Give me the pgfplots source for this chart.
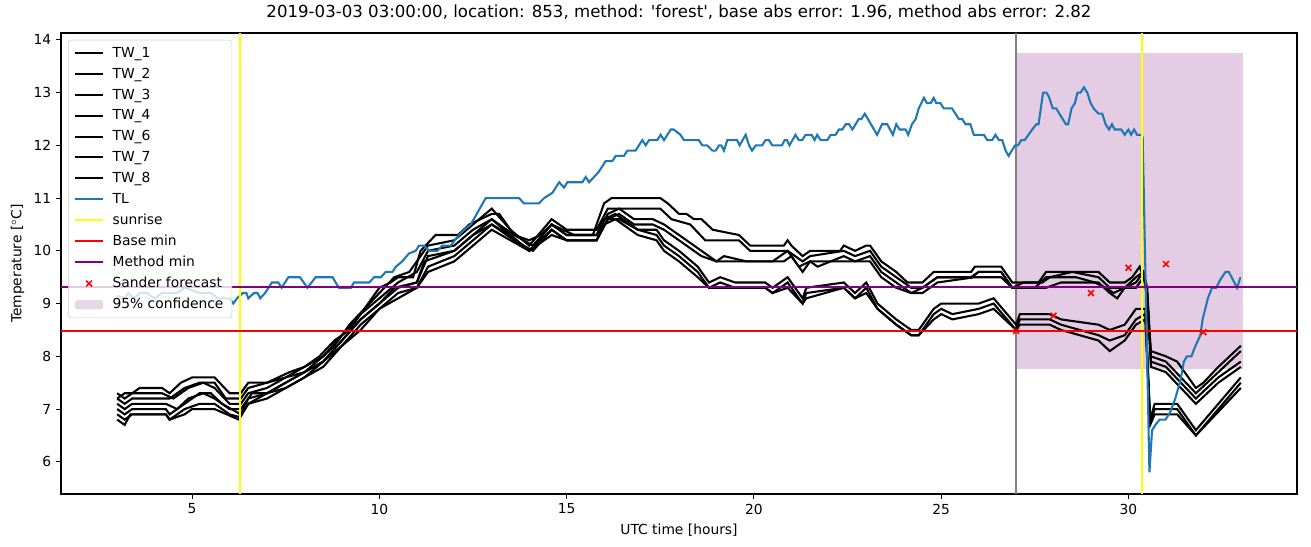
\documentclass[border=0pt]{standalone}
\usepackage{fontspec}
\setmainfont{DejaVu Sans}
\newfontfamily\plainfont{DejaVu Sans}
\usepackage{pgfplots}
\pgfplotsset{compat=1.18}
\definecolor{tlblue}{HTML}{1F77B4}
\definecolor{mplpurple}{HTML}{800080}
\definecolor{mplgray}{HTML}{808080}
\definecolor{mplyellow}{HTML}{FFFF00}
\definecolor{mplred}{HTML}{FF0000}
\definecolor{confid}{RGB}{227,204,228}
\begin{document}
\begin{tikzpicture}
\useasboundingbox (-0.61in,-0.53in) rectangle (12.50in,4.94in);
\begin{axis}[
  at={(0,0)}, anchor=south west,
  scale only axis, width=12.36in, height=4.61in,
  xmin=1.5, xmax=34.5, ymin=5.39, ymax=14.13,
  xtick={5,10,...,30}, ytick={6,...,14},
  tick pos=left, tick align=outside,
  major tick length=3.5pt,
  every tick/.style={black, line width=0.8pt},
  axis line style={line width=0.8pt},
  /pgf/number format/assume math mode=true,
  ticklabel style={font=\normalsize},
  title={2019-03-03 03:00:00, location: 853, method: {\plainfont'}forest{\plainfont'}, base abs error: 1.96, method abs error: 2.82},
  title style={font=\large},
  xlabel={UTC time [hours]}, ylabel={Temperature [$^\circ$C]},
  legend style={at={(0.0057,0.985)}, anchor=north west, draw=black!20, rounded corners=2pt,
    fill=white, fill opacity=0.8, text opacity=1, font=\normalsize, row sep=2.2pt, column sep=4pt,
    inner xsep=4pt, inner ysep=3pt},
  legend cell align=left,
  legend image code/.code={\draw[mark repeat=2,mark phase=2,#1] plot coordinates {(0cm,0cm) (0.36cm,0cm) (0.72cm,0cm)};},
]
% confidence band
\addplot[draw=none, fill=confid, forget plot] coordinates {(27,7.76)(33.07,7.76)(33.07,13.75)(27,13.75)} -- cycle;
% gray line
\addplot[mplgray, line width=1.5pt, forget plot] coordinates {(27,5.39)(27,14.13)};

% TW_1
\addplot[black, line width=1.5pt] coordinates {
(3.0,7.3)(3.2,7.2)(3.4,7.3)(3.6,7.4)(4.2,7.4)(4.4,7.3)(4.7,7.5)(5.0,7.6)(5.6,7.6)(6.0,7.3)(6.3,7.3)(6.5,7.5)(7.0,7.5)(7.3,7.6)(7.6,7.7)(8.0,7.8)(8.5,8.0)(8.8,8.2)(9.2,8.6)(9.6,8.9)(10.0,9.3)(10.3,9.4)(10.5,9.5)(10.9,9.5)(11.1,10.0)(11.5,10.3)(12.1,10.3)(12.4,10.5)(12.7,10.6)(13.0,10.7)(13.2,10.7)(13.6,10.3)(14.0,10.2)(14.3,10.3)(14.6,10.5)(14.9,10.4)(15.2,10.3)(15.7,10.3)(16.0,10.9)(16.2,11.0)(17.5,11.0)(17.7,10.9)(18.0,10.7)(18.2,10.7)(18.4,10.6)(18.6,10.6)(18.9,10.4)(19.6,10.3)(19.9,10.1)(20.8,10.1)(20.9,10.2)(21.0,10.1)(21.3,9.9)(21.5,10.0)(22.3,10.0)(22.4,10.1)(22.7,10.0)(23.0,10.1)(23.1,10.1)(23.4,9.8)(23.8,9.6)(24.1,9.4)(24.5,9.4)(24.8,9.6)(25.8,9.6)(25.9,9.7)(26.6,9.7)(26.9,9.4)(27.1,9.4)(27.6,9.4)(27.8,9.6)(29.2,9.6)(29.5,9.4)(29.9,9.4)(30.1,9.5)(30.3,9.7)(30.45,9.4)(30.6,8.1)(31.0,8.0)(31.3,7.9)(31.8,7.4)(32.0,7.5)(32.4,7.8)(32.7,8.0)(33.0,8.2)};
\addlegendentry{TW\_1}
% TW_2
\addplot[black, line width=1.5pt] coordinates {
(3.0,7.2)(3.2,7.1)(3.4,7.2)(4.3,7.2)(4.4,7.2)(4.8,7.4)(5.2,7.5)(5.6,7.5)(5.9,7.2)(6.3,7.2)(6.5,7.4)(7.0,7.5)(7.5,7.6)(8.0,7.8)(8.4,8.0)(8.8,8.3)(9.2,8.5)(9.6,8.9)(10.0,9.2)(10.4,9.5)(10.8,9.6)(11.0,9.8)(11.3,10.1)(12.0,10.2)(12.5,10.5)(13.0,10.8)(13.5,10.4)(14.0,10.1)(14.6,10.6)(15.0,10.4)(15.8,10.4)(16.1,10.8)(17.5,10.8)(17.8,10.6)(18.3,10.5)(18.7,10.2)(19.6,10.2)(19.9,10.0)(20.9,10.0)(21.3,9.8)(21.5,9.9)(22.4,10.0)(22.7,9.9)(23.1,10.0)(23.4,9.7)(23.8,9.5)(24.2,9.3)(24.5,9.3)(24.9,9.5)(25.8,9.5)(26.0,9.6)(26.6,9.6)(26.9,9.3)(27.2,9.4)(27.7,9.4)(27.9,9.5)(28.5,9.6)(29.2,9.5)(29.5,9.3)(29.9,9.3)(30.2,9.5)(30.4,9.6)(30.5,9.3)(30.6,8.0)(31.0,7.9)(31.8,7.3)(32.4,7.7)(33.0,8.1)};
\addlegendentry{TW\_2}
% TW_3
\addplot[black, line width=1.5pt] coordinates {
(3.0,7.2)(3.2,7.3)(3.6,7.3)(4.2,7.3)(4.5,7.2)(4.9,7.4)(5.3,7.5)(5.6,7.4)(6.0,7.1)(6.3,7.1)(6.5,7.3)(7.0,7.4)(7.5,7.6)(8.0,7.7)(8.5,8.0)(9.0,8.4)(9.5,8.8)(10.0,9.1)(10.5,9.4)(11.0,9.6)(11.3,10.0)(12.0,10.1)(12.5,10.4)(13.0,10.6)(13.6,10.3)(14.1,10.1)(14.6,10.5)(15.0,10.3)(15.8,10.3)(16.1,10.7)(16.4,10.8)(16.8,10.6)(17.3,10.6)(17.6,10.5)(18.0,10.3)(18.6,10.0)(19.0,9.8)(19.2,9.9)(19.8,9.8)(20.8,9.8)(21.0,9.9)(21.3,9.6)(21.5,9.8)(21.7,9.7)(22.4,9.9)(22.7,9.8)(23.1,9.9)(23.4,9.6)(23.8,9.4)(24.2,9.2)(24.5,9.3)(24.9,9.5)(25.8,9.5)(26.0,9.6)(26.6,9.6)(26.9,9.3)(27.1,9.3)(27.5,9.3)(27.8,9.5)(28.6,9.5)(29.1,9.4)(29.4,9.3)(29.6,9.2)(29.9,9.3)(30.2,9.4)(30.4,9.6)(30.5,9.2)(30.6,7.9)(31.0,7.8)(31.8,7.2)(32.4,7.6)(33.0,7.9)};
\addlegendentry{TW\_3}
% TW_4
\addplot[black, line width=1.5pt] coordinates {
(3.0,7.1)(3.2,7.0)(3.4,7.1)(4.3,7.1)(4.6,7.0)(4.9,7.2)(5.3,7.3)(5.6,7.2)(6.0,7.0)(6.3,7.0)(6.6,7.3)(7.0,7.3)(7.5,7.5)(8.0,7.7)(8.5,7.9)(9.0,8.3)(9.5,8.7)(10.0,9.0)(10.4,9.3)(11.0,9.4)(11.2,9.8)(12.0,10.0)(12.5,10.3)(13.0,10.5)(13.6,10.2)(14.1,10.0)(14.6,10.4)(15.0,10.2)(15.8,10.2)(16.1,10.6)(16.4,10.7)(16.8,10.5)(17.3,10.5)(17.6,10.4)(18.0,10.2)(18.6,9.9)(19.0,9.8)(19.8,9.8)(20.5,9.8)(20.9,10.0)(21.2,9.7)(21.5,9.8)(22.4,9.8)(22.7,9.8)(23.1,9.8)(23.4,9.5)(23.8,9.3)(24.2,9.2)(24.5,9.2)(24.9,9.4)(25.9,9.5)(26.6,9.5)(26.9,9.3)(27.2,9.3)(27.8,9.3)(28.2,9.4)(29.2,9.4)(29.5,9.2)(29.7,9.1)(29.9,9.3)(30.2,9.3)(30.4,9.5)(30.5,9.2)(30.6,7.8)(31.0,7.7)(31.8,7.1)(32.4,7.5)(33.0,7.8)};
\addlegendentry{TW\_4}
% TW_6
\addplot[black, line width=1.5pt] coordinates {
(3.0,7.0)(3.2,6.9)(3.4,7.0)(4.3,7.0)(4.4,6.9)(4.8,7.1)(5.2,7.3)(5.5,7.3)(5.8,7.1)(6.3,6.9)(6.5,7.2)(7.0,7.3)(7.5,7.5)(8.0,7.7)(8.5,7.9)(9.0,8.3)(9.5,8.7)(10.0,9.0)(10.5,9.3)(11.0,9.4)(11.3,9.9)(12.0,10.0)(12.5,10.3)(13.0,10.6)(13.5,10.3)(14.0,10.0)(14.6,10.4)(15.0,10.2)(15.8,10.2)(16.1,10.6)(16.4,10.6)(16.9,10.4)(17.4,10.4)(17.6,10.2)(18.0,10.0)(18.5,9.7)(18.8,9.4)(19.1,9.5)(19.5,9.4)(20.3,9.4)(20.5,9.3)(20.9,9.5)(21.3,9.1)(21.4,9.3)(22.4,9.4)(22.7,9.2)(23.0,9.4)(23.3,9.0)(23.8,8.7)(24.2,8.5)(24.4,8.5)(24.8,8.9)(25.0,9.0)(26.0,9.0)(26.4,9.1)(27.0,8.6)(27.1,8.8)(27.9,8.8)(28.2,8.7)(29.2,8.6)(29.5,8.5)(29.9,8.6)(30.2,8.9)(30.45,8.9)(30.58,6.8)(30.7,7.1)(31.3,7.1)(31.8,6.6)(32.4,7.1)(33.0,7.6)};
\addlegendentry{TW\_6}
% TW_7
\addplot[black, line width=1.5pt] coordinates {
(3.0,6.9)(3.2,6.8)(3.4,6.9)(4.3,6.9)(4.4,6.8)(4.8,7.0)(5.2,7.1)(5.6,7.1)(6.0,6.9)(6.25,6.85)(6.5,7.1)(7.0,7.3)(7.5,7.4)(8.0,7.6)(8.5,7.9)(9.0,8.2)(9.5,8.6)(10.0,8.9)(10.5,9.2)(11.0,9.3)(11.3,9.7)(12.0,9.9)(12.5,10.2)(13.0,10.5)(13.5,10.3)(14.0,10.0)(14.6,10.5)(15.0,10.3)(15.8,10.3)(16.0,10.6)(16.3,10.7)(16.9,10.4)(17.4,10.3)(17.6,10.1)(18.0,9.9)(18.5,9.6)(18.8,9.3)(19.1,9.4)(19.5,9.3)(20.3,9.3)(20.5,9.2)(20.9,9.4)(21.3,9.0)(21.4,9.2)(22.4,9.3)(22.7,9.1)(23.0,9.3)(23.3,8.9)(23.8,8.6)(24.2,8.4)(24.4,8.4)(24.8,8.8)(25.0,8.9)(25.3,8.8)(26.0,8.9)(26.4,9.0)(27.0,8.5)(27.1,8.7)(27.9,8.7)(28.2,8.6)(29.2,8.4)(29.5,8.3)(29.9,8.4)(30.2,8.7)(30.45,8.8)(30.58,6.75)(30.7,7.0)(31.3,7.0)(31.8,6.5)(32.4,7.0)(33.0,7.5)};
\addlegendentry{TW\_7}
% TW_8
\addplot[black, line width=1.5pt] coordinates {
(3.0,6.8)(3.2,6.7)(3.35,6.9)(4.3,6.9)(4.4,6.8)(4.8,6.9)(5.0,7.0)(5.6,7.0)(6.25,6.8)(6.5,7.1)(7.0,7.2)(7.5,7.4)(8.0,7.6)(8.5,7.8)(9.0,8.2)(9.5,8.5)(10.0,8.9)(10.5,9.1)(11.0,9.3)(11.3,9.6)(12.0,9.8)(12.5,10.1)(13.0,10.4)(13.5,10.2)(14.0,10.0)(14.6,10.3)(15.0,10.2)(15.8,10.2)(16.0,10.5)(16.3,10.6)(16.9,10.3)(17.4,10.2)(17.6,10.0)(18.0,9.8)(18.5,9.5)(18.8,9.3)(19.1,9.3)(19.5,9.3)(20.3,9.3)(20.5,9.2)(20.9,9.3)(21.3,9.0)(21.4,9.1)(22.4,9.3)(22.7,9.1)(23.0,9.2)(23.3,8.9)(23.8,8.6)(24.2,8.4)(24.4,8.4)(24.8,8.7)(25.0,8.8)(25.3,8.7)(26.0,8.8)(26.4,8.9)(27.0,8.5)(27.1,8.6)(27.9,8.6)(28.2,8.5)(29.2,8.3)(29.5,8.1)(29.9,8.3)(30.2,8.6)(30.45,8.7)(30.58,6.7)(30.7,6.9)(31.3,6.9)(31.8,6.5)(32.4,6.95)(33.0,7.4)};
\addlegendentry{TW\_8}
% TL
\addplot[tlblue, line width=1.5pt] coordinates {
(3.0,9.15)(3.2,9.1)(3.3,9.2)(3.45,9.1)(3.6,9.2)(3.8,9.2)(4.0,9.1)(4.2,9.2)(4.6,9.2)(4.8,9.3)(5.0,9.25)(5.2,9.2)(5.5,9.2)(5.7,9.1)(6.0,9.1)(6.1,9.0)(6.2,9.1)(6.35,9.2)(6.45,9.2)(6.5,9.1)(6.65,9.2)(6.75,9.2)(6.82,9.1)(6.95,9.2)(7.13,9.4)(7.3,9.4)(7.39,9.3)(7.57,9.5)(7.88,9.5)(8.08,9.3)(8.3,9.5)(8.75,9.5)(8.92,9.3)(9.24,9.3)(9.32,9.4)(9.73,9.4)(9.86,9.5)(10.04,9.5)(10.17,9.6)(10.35,9.6)(10.44,9.7)(10.61,9.8)(10.79,9.95)(10.97,10.0)(11.06,10.1)(11.19,10.1)(11.33,10.0)(11.55,10.0)(11.68,10.1)(11.9,10.1)(12.13,10.3)(12.26,10.4)(12.44,10.5)(12.84,11.0)(13.73,11.0)(13.86,10.9)(14.26,10.9)(14.4,11.0)(14.62,11.1)(14.8,11.3)(14.93,11.2)(15.02,11.3)(15.42,11.3)(15.51,11.4)(15.6,11.3)(15.73,11.4)(15.86,11.5)(16.04,11.7)(16.22,11.7)(16.31,11.8)(16.53,11.8)(16.62,11.9)(16.84,11.9)(17.02,12.1)(17.11,12.0)(17.2,12.1)(17.42,12.1)(17.51,12.2)(17.6,12.1)(17.78,12.3)(17.86,12.3)(18.04,12.2)(18.13,12.1)(18.53,12.1)(18.62,12.0)(18.75,12.0)(18.89,11.9)(18.98,11.9)(19.07,12.0)(19.13,12.0)(19.2,11.9)(19.29,12.1)(19.55,12.1)(19.62,12.0)(19.78,12.2)(19.87,12.0)(19.95,11.9)(20.05,12.0)(20.22,12.0)(20.31,12.1)(20.4,12.1)(20.49,12.0)(20.75,12.0)(20.82,12.1)(20.88,12.1)(20.95,12.0)(21.11,12.2)(21.2,12.1)(21.29,12.1)(21.38,12.2)(21.54,12.2)(21.62,12.1)(21.69,12.2)(21.78,12.1)(21.96,12.1)(22.05,12.2)(22.18,12.2)(22.27,12.3)(22.36,12.3)(22.45,12.4)(22.54,12.4)(22.63,12.3)(22.8,12.5)(22.87,12.5)(22.96,12.6)(23.29,12.2)(23.42,12.4)(23.56,12.4)(23.71,12.2)(23.8,12.4)(23.89,12.3)(24.05,12.3)(24.12,12.2)(24.22,12.4)(24.32,12.5)(24.4,12.7)(24.54,12.9)(24.62,12.8)(24.72,12.8)(24.8,12.9)(24.87,12.8)(24.98,12.8)(25.07,12.7)(25.29,12.7)(25.47,12.5)(25.56,12.5)(25.65,12.4)(25.78,12.4)(25.87,12.2)(26.14,12.2)(26.23,12.1)(26.36,12.1)(26.45,12.2)(26.54,12.1)(26.63,12.1)(26.72,11.9)(26.8,11.8)(26.97,12.0)(27.05,12.0)(27.14,12.1)(27.23,12.1)(27.43,12.3)(27.54,12.4)(27.6,12.4)(27.72,13.0)(27.81,13.0)(27.87,12.93)(27.98,12.7)(28.07,12.7)(28.33,12.4)(28.39,12.4)(28.48,12.7)(28.57,12.8)(28.64,13.0)(28.72,13.0)(28.81,13.1)(28.9,13.0)(28.99,12.8)(29.07,12.7)(29.2,12.6)(29.3,12.6)(29.39,12.4)(29.48,12.3)(29.56,12.4)(29.63,12.3)(29.81,12.3)(29.9,12.2)(30.0,12.3)(30.07,12.2)(30.15,12.3)(30.23,12.2)(30.35,12.2)(30.38,12.15)(30.56,5.8)(30.63,6.6)(30.72,6.7)(30.83,6.8)(30.99,6.8)(31.12,6.95)(31.25,7.2)(31.39,7.55)(31.48,7.9)(31.56,8.0)(31.68,8.0)(31.79,8.2)(31.92,8.4)(31.98,8.7)(32.12,9.1)(32.23,9.3)(32.34,9.3)(32.45,9.45)(32.59,9.6)(32.68,9.6)(32.9,9.3)(32.99,9.5)};
\addlegendentry{TL}
% sunrise
\addplot[mplyellow, line width=1.5pt] coordinates {(6.27,5.39)(6.27,14.13)};
\addlegendentry{sunrise}
\addplot[mplyellow, line width=1.5pt, forget plot] coordinates {(30.36,5.39)(30.36,14.13)};
% base min
\addplot[mplred, line width=1.5pt] coordinates {(1.5,8.48)(34.5,8.48)};
\addlegendentry{Base min}
% method min
\addplot[mplpurple, line width=1.5pt] coordinates {(1.5,9.32)(34.5,9.32)};
\addlegendentry{Method min}
% Sander forecast
\addplot[only marks, mark=x, mark size=3pt, mplred, mark options={line width=1.1pt}] coordinates {(27,8.48)(28,8.77)(29,9.2)(30,9.68)(31,9.75)(32,8.46)};
\addlegendentry{Sander forecast}
\addlegendimage{draw=none, fill=confid, legend image code/.code={\fill[confid] (0cm,-0.12cm) rectangle (0.72cm,0.12cm);}}
\addlegendentry{95\% confidence}
\end{axis}
\end{tikzpicture}
\end{document}
